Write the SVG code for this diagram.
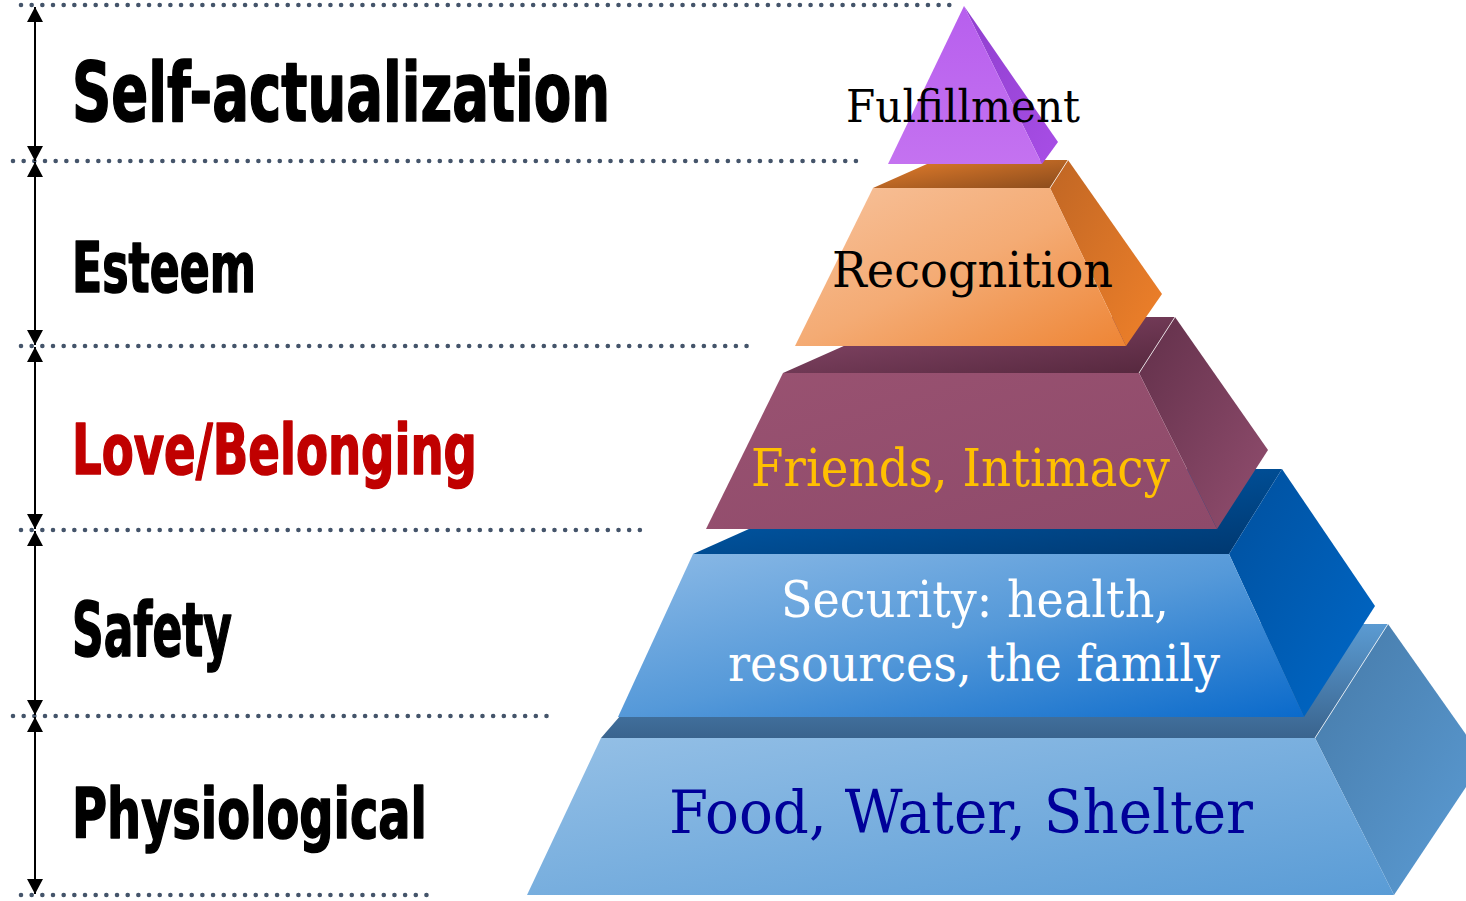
<svg xmlns="http://www.w3.org/2000/svg" width="1466" height="901" viewBox="0 0 1466 901">
<style>
.guide{fill:none;stroke:#44546a;stroke-width:4.6;stroke-linecap:round;stroke-dasharray:0 10.67}
.arrow{fill:none;stroke:#000;stroke-width:2;marker-start:url(#ah);marker-end:url(#ah)}
.lbl{font-family:'DejaVu Sans Condensed','DejaVu Sans','Liberation Sans',sans-serif;font-weight:bold;fill:#000;stroke:#000;stroke-width:1.6;stroke-linejoin:round}
.red{fill:#c00000;stroke:#c00000}
.ptxt{font-family:'DejaVu Serif','Liberation Serif',serif}
.hl{stroke:#fff;stroke-opacity:0.75;stroke-width:1;fill:none}
</style>
<defs>
<marker id="ah" viewBox="0 0 15 16" refX="15" refY="8" markerWidth="15" markerHeight="16" markerUnits="userSpaceOnUse" orient="auto-start-reverse"><path d="M0,0L15,8L0,16z" fill="#000"/></marker>
<linearGradient id="gPurF" x1="0" y1="0" x2="0" y2="1"><stop offset="0" stop-color="#b75fee"/><stop offset="1" stop-color="#c472f0"/></linearGradient>
<linearGradient id="gPurS" x1="0" y1="0" x2="1" y2="1"><stop offset="0" stop-color="#8f3fce"/><stop offset="1" stop-color="#a84ee6"/></linearGradient>
<linearGradient id="gOrF" x1="0" y1="0" x2="1" y2="1"><stop offset="0" stop-color="#f7c29c"/><stop offset="0.5" stop-color="#f4ab74"/><stop offset="1" stop-color="#ee8535"/></linearGradient>
<linearGradient id="gOrT" x1="0" y1="0" x2="1" y2="1"><stop offset="0" stop-color="#e57e2c"/><stop offset="1" stop-color="#8a4b1c"/></linearGradient>
<linearGradient id="gOrS" x1="0" y1="0" x2="1" y2="1"><stop offset="0" stop-color="#c06624"/><stop offset="1" stop-color="#f0812a"/></linearGradient>
<linearGradient id="gMaF" x1="0" y1="0" x2="1" y2="1"><stop offset="0" stop-color="#995271"/><stop offset="1" stop-color="#8e4a6a"/></linearGradient>
<linearGradient id="gMaT" x1="0" y1="0" x2="1" y2="1"><stop offset="0" stop-color="#8a4a6c"/><stop offset="1" stop-color="#55273d"/></linearGradient>
<linearGradient id="gMaS" x1="0" y1="0" x2="1" y2="1"><stop offset="0" stop-color="#62304a"/><stop offset="1" stop-color="#924e6f"/></linearGradient>
<linearGradient id="gBlF" x1="0" y1="0" x2="1" y2="1"><stop offset="0" stop-color="#8cbae6"/><stop offset="0.5" stop-color="#5599d9"/><stop offset="1" stop-color="#0a6acb"/></linearGradient>
<linearGradient id="gBlT" x1="0" y1="0" x2="1" y2="1"><stop offset="0" stop-color="#0062b8"/><stop offset="1" stop-color="#00376e"/></linearGradient>
<linearGradient id="gBlS" x1="0" y1="0" x2="1" y2="1"><stop offset="0" stop-color="#00509e"/><stop offset="1" stop-color="#0068c8"/></linearGradient>
<linearGradient id="gBoF" x1="0" y1="0" x2="1" y2="1"><stop offset="0" stop-color="#95c0e6"/><stop offset="1" stop-color="#5a9cd6"/></linearGradient>
<linearGradient id="gBoT" x1="0" y1="0" x2="0" y2="1"><stop offset="0" stop-color="#5b9bd2"/><stop offset="1" stop-color="#3a648e"/></linearGradient>
<linearGradient id="gBoS" x1="0" y1="0" x2="1" y2="1"><stop offset="0" stop-color="#467aa8"/><stop offset="1" stop-color="#5c9dd6"/></linearGradient>
</defs>
<rect width="1466" height="901" fill="#fff"/>

<g id="guides">
<line class="guide" x1="21" y1="5" x2="950" y2="5"/>
<line class="guide" x1="13" y1="161" x2="858" y2="161"/>
<line class="guide" x1="21" y1="346" x2="748" y2="346"/>
<line class="guide" x1="21" y1="530" x2="642" y2="530"/>
<line class="guide" x1="13" y1="716" x2="548" y2="716"/>
<line class="guide" x1="21" y1="895" x2="430" y2="895"/>
</g>

<g id="connectors">
<line class="arrow" x1="35" y1="7" x2="35" y2="161"/>
<line class="arrow" x1="35" y1="162" x2="35" y2="345"/>
<line class="arrow" x1="35" y1="347" x2="35" y2="529"/>
<line class="arrow" x1="35" y1="531" x2="35" y2="715"/>
<line class="arrow" x1="35" y1="717" x2="35" y2="894"/>
</g>

<g id="label-self-actualization"><text class="lbl" x="72" y="121" font-size="82" textLength="538" lengthAdjust="spacingAndGlyphs">Self-actualization</text></g>
<g id="label-esteem"><text class="lbl" x="72" y="292" font-size="69" textLength="184" lengthAdjust="spacingAndGlyphs">Esteem</text></g>
<g id="label-love"><text class="lbl red" x="72" y="474" font-size="70" textLength="405" lengthAdjust="spacingAndGlyphs">Love/Belonging</text></g>
<g id="label-safety"><text class="lbl" x="72" y="656" font-size="74" textLength="160" lengthAdjust="spacingAndGlyphs">Safety</text></g>
<g id="label-physiological"><text class="lbl" x="72" y="838" font-size="70" textLength="355" lengthAdjust="spacingAndGlyphs">Physiological</text></g>

<g id="level-physiological">
<polygon points="601,738 700,624 1388,624 1315,738" fill="url(#gBoT)"/>
<polygon points="1315,738 1388,624 1484,760 1394,895" fill="url(#gBoS)"/>
<polygon points="601,738 1315,738 1394,895 527,895" fill="url(#gBoF)"/>
<line class="hl" x1="1315" y1="738" x2="1388" y2="624"/>
<text class="ptxt" x="669" y="833" font-size="59" fill="#000099" textLength="584" lengthAdjust="spacingAndGlyphs">Food, Water, Shelter</text>
</g>

<g id="level-safety">
<polygon points="693,554 883,469 1282,469 1229,554" fill="url(#gBlT)"/>
<polygon points="1229,554 1282,469 1375,606 1304,717" fill="url(#gBlS)"/>
<polygon points="693,554 1229,554 1304,717 618,717" fill="url(#gBlF)"/>
<text class="ptxt" x="781" y="617" font-size="50" fill="#fff" textLength="388" lengthAdjust="spacingAndGlyphs">Security: health,</text>
<text class="ptxt" x="728" y="681" font-size="50" fill="#fff" textLength="492" lengthAdjust="spacingAndGlyphs">resources, the family</text>
</g>

<g id="level-love">
<polygon points="783,373 909,317 1175,317 1139,373" fill="url(#gMaT)"/>
<polygon points="1139,373 1175,317 1268,450 1217,529" fill="url(#gMaS)"/>
<polygon points="783,373 1139,373 1217,529 706,529" fill="url(#gMaF)"/>
<line class="hl" x1="1139" y1="373" x2="1175" y2="317"/>
<text class="ptxt" x="751" y="486" font-size="52" fill="#ffc000" textLength="419" lengthAdjust="spacingAndGlyphs">Friends, Intimacy</text>
</g>

<g id="level-esteem">
<polygon points="873,188 936,160 1068,160 1050,188" fill="url(#gOrT)"/>
<polygon points="1050,188 1068,160 1162,294 1126,346" fill="url(#gOrS)"/>
<polygon points="873,188 1050,188 1126,346 795,346" fill="url(#gOrF)"/>
<line class="hl" x1="1050" y1="188" x2="1068" y2="160"/>
<text class="ptxt" x="832" y="287" font-size="48" fill="#000" textLength="281" lengthAdjust="spacingAndGlyphs">Recognition</text>
</g>

<g id="level-self-actualization">
<polygon points="964,6 1058,142 1042,164" fill="url(#gPurS)"/>
<polygon points="964,6 1042,164 888,164" fill="url(#gPurF)"/>
<text class="ptxt" x="846" y="122" font-size="45" fill="#000" textLength="234" lengthAdjust="spacingAndGlyphs">Fulfillment</text>
</g>
</svg>
